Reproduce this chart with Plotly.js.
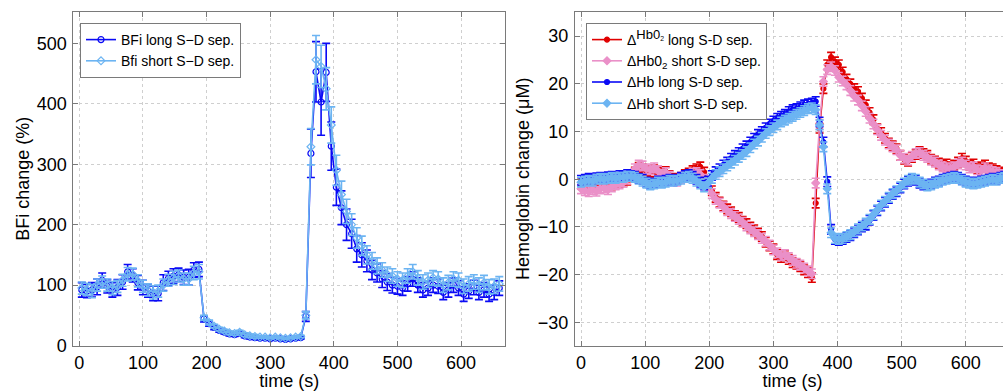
<!DOCTYPE html>
<html>
<head>
<meta charset="utf-8">
<script src="https://cdn.plot.ly/plotly-3.0.1.min.js"></script>
<style>
html,body{margin:0;padding:0;overflow:hidden;background:#fff;}
#chart{width:1010px;height:391px;}
</style>
</head>
<body>
<div id="chart"></div>
<script>
// ---------- Left panel: BFi ----------
const timeL = [4,12,20,28,36,44,52,60,68,76,84,92,100,108,116,124,132,140,148,156,164,172,180,188,
  196,204,212,220,228,236,244,252,260,268,276,284,292,300,308,316,324,332,340,348,
  356,364,372,380,388,396,404,412,420,428,436,444,452,460,468,476,484,492,500,508,516,524,532,540,
  548,556,564,572,580,588,596,604,612,620,628,636,644,652,660];
const bfiLong = [92,90,92,97,108,98,92,96,105,122,116,104,96,91,86,86,104,111,115,117,113,113,125,126,
  44,36,30,25,22,19,18,20,16,14,13,12,12,11,12,11,10,11,12,13,
  48,318,453,403,452,330,262,228,200,185,160,150,140,125,120,110,105,100,98,95,102,110,100,92,
  95,100,98,88,92,100,95,85,90,96,88,92,85,88,95];
const bfiShort = [95,93,90,100,105,100,95,98,108,118,118,107,98,92,88,90,100,108,112,115,110,110,120,122,
  46,38,32,27,24,21,20,22,18,16,15,14,14,13,14,13,12,13,14,15,
  50,329,473,462,425,365,290,250,222,200,178,165,150,140,132,125,118,115,110,108,115,122,112,105,
  108,112,110,100,104,110,108,98,102,105,100,104,97,98,102];
const bfiLongErr = [12,11,12,13,12,11,12,13,12,12,11,12,12,11,12,12,13,12,12,11,12,13,12,12,
  5,4,4,3,3,3,3,3,3,3,3,2,2,2,2,2,2,2,2,2,
  8,40,50,55,48,40,30,28,26,24,22,20,18,16,15,14,14,13,13,12,12,12,12,12,
  12,12,12,12,12,12,12,12,12,12,12,12,12,12,12];
const bfiShortErr = [10,10,11,10,10,10,11,10,10,11,10,10,10,10,11,10,10,10,11,10,10,10,11,12,
  4,4,3,3,3,3,3,3,3,3,3,2,2,2,2,2,2,2,2,2,
  6,30,40,35,35,30,25,22,20,18,17,16,15,14,13,12,12,12,12,12,12,12,12,12,
  12,12,12,12,12,12,12,12,12,12,12,12,12,12,12];

// ---------- Right panel: Hemoglobin ----------
const timeR = [0,6,12,18,24,30,36,42,48,54,60,66,72,78,84,90,96,102,108,114,120,126,132,138,144,150,
  156,162,168,174,180,186,192,198,204,210,216,222,228,234,240,246,252,258,264,270,276,282,288,294,300,
  306,312,318,324,330,336,342,348,354,360,366,372,378,384,390,396,402,408,414,420,426,432,438,444,450,
  456,462,468,474,480,486,492,498,504,510,516,522,528,534,540,546,552,558,564,570,576,582,588,594,600,
  606,612,618,624,630,636,642,648,654,660];
const hbo2Long = [-1.0,-1.2,-1.5,-1.3,-1.5,-1.2,-1.0,-1.4,-1.2,-0.8,-0.6,-0.5,-0.2,0.5,1.5,2.5,2.2,1.8,1.5,2.0,1.5,1.2,1.6,0.8,0.2,0.0,
  0.4,1.0,1.3,1.8,2.2,2.6,1.5,-0.5,-2.4,-3.8,-4.8,-5.6,-6.2,-6.8,-7.6,-8.0,-8.8,-9.3,-10.0,-10.6,-11.3,-12.0,-13.2,-14.0,-14.6,
  -15.8,-16.4,-16.0,-16.8,-17.5,-17.8,-18.3,-19.0,-19.6,-20.6,-5.0,10.7,19.0,24.0,25.6,24.6,24.0,22.5,21.0,20.0,19.0,18.4,17.0,15.6,14.0,
  12.5,10.6,9.8,8.6,7.6,7.0,6.4,5.0,4.2,3.8,4.6,5.2,5.8,5.4,5.0,4.2,3.8,3.4,3.0,3.2,2.6,3.0,3.6,4.4,3.8,
  3.0,3.2,2.2,2.6,3.0,2.4,2.2,1.8,1.5,1.2];
const hbo2Short = [-2.0,-2.4,-2.6,-2.2,-2.5,-2.0,-1.8,-2.2,-1.6,-1.2,-1.0,-0.6,0.0,1.0,2.2,3.0,2.8,2.2,2.0,2.4,1.8,1.0,1.4,0.6,-0.2,-0.4,
  0.2,0.6,0.8,1.2,1.4,1.0,0.0,-1.4,-3.0,-4.2,-5.0,-5.8,-6.6,-7.2,-7.8,-8.4,-9.0,-9.8,-10.4,-11.0,-11.6,-12.4,-13.0,-13.8,-14.8,
  -15.4,-16.0,-15.8,-16.4,-17.0,-17.6,-18.0,-18.6,-19.2,-19.8,-0.8,11.5,20.5,23.0,23.6,22.8,21.4,20.6,19.8,18.6,17.4,16.6,15.4,14.2,12.8,
  11.6,10.4,9.2,8.2,7.4,6.8,6.2,5.0,4.4,4.0,4.8,5.4,5.6,5.0,4.6,4.0,3.6,3.0,2.6,2.4,2.2,2.6,3.2,3.6,3.0,
  2.4,2.6,2.0,1.8,2.4,2.0,1.6,1.4,1.0,0.8];
const hbLong = [-0.2,0.0,0.2,0.0,0.3,0.4,0.2,0.5,0.6,0.4,0.8,0.6,1.0,0.8,0.6,0.2,0.0,-0.6,-1.0,-0.8,-0.4,-0.6,-0.2,0.0,-0.3,0.0,
  0.4,0.8,1.0,0.6,0.0,-0.6,-1.2,-0.4,0.8,1.6,2.2,3.0,3.6,4.4,5.0,5.6,6.4,7.0,7.8,8.6,9.4,10.0,10.8,11.6,12.2,
  12.8,13.2,13.6,14.2,14.6,14.8,15.2,15.6,15.8,16.0,16.3,12.0,7.8,-0.5,-10.5,-12.6,-12.8,-12.6,-12.2,-11.8,-11.2,-10.6,-10.0,-9.6,-8.6,
  -7.6,-6.6,-5.6,-4.8,-4.0,-3.2,-2.6,-1.8,-1.0,-0.4,0.0,-0.2,-0.8,-1.2,-1.2,-1.0,-0.6,-0.4,0.0,0.2,0.4,0.6,0.4,0.0,-0.4,
  -0.6,-0.8,-0.6,-0.4,-0.2,0.0,0.2,0.0,0.4,0.6];
const hbShort = [-0.6,-0.4,-0.2,-0.4,0.0,0.2,0.0,0.2,0.4,0.2,0.4,0.4,0.6,0.6,0.4,0.0,-0.4,-0.8,-1.2,-1.0,-0.6,-0.8,-0.6,-0.2,-0.4,-0.2,
  0.0,0.4,0.6,0.2,-0.4,-1.0,-1.6,-0.8,0.2,1.0,1.6,2.2,2.8,3.4,4.0,4.6,5.2,5.8,6.6,7.4,8.0,8.8,9.6,10.2,10.8,
  11.4,12.0,12.4,12.8,13.2,13.6,14.0,14.4,14.8,15.0,14.6,11.4,6.8,-2.0,-11.2,-12.4,-12.6,-12.4,-12.0,-11.6,-11.0,-10.4,-9.8,-9.2,-8.4,
  -7.4,-6.4,-5.4,-4.6,-3.8,-3.0,-2.4,-1.6,-0.8,-0.2,0.2,0.0,-0.6,-1.0,-1.4,-1.2,-0.8,-0.6,-0.2,0.0,0.2,0.4,0.2,-0.2,-0.6,
  -0.8,-1.0,-0.8,-0.6,-0.4,-0.2,0.0,-0.2,0.2,0.4];
const hbErr = 1.0;

const blue = '#0a0af5', lightBlue = '#6cb4f2', red = '#e00000', pink = '#ea90c8';
const font = 'Liberation Sans, Arial, Helvetica, sans-serif';

function tr(x, y, err, name, color, symbol, xa, ya, leg, size) {
  const e = Array.isArray(err) ? {type:'data', array: err} : {type:'constant', value: err};
  return {
    x: x, y: y, name: name, type: 'scatter', mode: 'lines+markers',
    xaxis: xa, yaxis: ya, legend: leg,
    line: {color: color, width: 1.6},
    marker: {symbol: symbol, size: size, color: color, line: {color: color, width: 1.2}},
    error_y: Object.assign(e, {visible: true, color: color, thickness: 1.6, width: 4})
  };
}

const data = [
  tr(timeL, bfiLong, bfiLongErr, 'BFi long S\u2212D sep.', blue, 'circle-open', 'x', 'y', 'legend', 6),
  tr(timeL, bfiShort, bfiShortErr, 'Bfi short S\u2212D sep.', lightBlue, 'diamond-open', 'x', 'y', 'legend', 6),
  tr(timeR, hbo2Long, hbErr, '\u0394<sup><span style="font-size:13px">Hb0</span><sub>2</sub></sup> long S-D sep.', red, 'circle', 'x2', 'y2', 'legend2', 5),
  tr(timeR, hbo2Short, hbErr, '\u0394Hb0<sub>2</sub> short S-D sep.', pink, 'diamond', 'x2', 'y2', 'legend2', 6),
  tr(timeR, hbLong, hbErr, '\u0394Hb long S-D sep.', blue, 'circle', 'x2', 'y2', 'legend2', 5),
  tr(timeR, hbShort, hbErr, '\u0394Hb short S-D sep.', lightBlue, 'diamond', 'x2', 'y2', 'legend2', 6)
];

const W = 1010, H = 391;
const ax = {
  showline: true, linecolor: '#7a7a7a', linewidth: 1, mirror: 'ticks',
  ticks: 'inside', ticklen: 5, tickcolor: '#7a7a7a', tickwidth: 1,
  showgrid: true, gridcolor: '#cfcfcf', griddash: 'dot', gridwidth: 1,
  zeroline: false, tickfont: {family: font, size: 18, color: '#000'}
};
const yDom = [1 - 345.5 / H, 1 - 12 / H];
const layout = {
  width: W, height: H,
  margin: {l: 0, r: 0, t: 0, b: 0},
  paper_bgcolor: '#fff', plot_bgcolor: '#fff',
  font: {family: font, size: 18, color: '#000'},
  showlegend: true,
  xaxis: Object.assign({}, ax, {domain: [73.3 / W, 505 / W], range: [-9.4, 669], tickvals: [0,100,200,300,400,500,600],
    ticklabelstandoff: 1, title: {text: 'time (s)', font: {family: font, size: 18}, standoff: 0}}),
  yaxis: Object.assign({}, ax, {domain: yDom, range: [0, 552], tickvals: [0,100,200,300,400,500],
    ticklabelstandoff: 2, title: {text: 'BFi change (%)', font: {family: font, size: 18}, standoff: 2}}),
  xaxis2: Object.assign({}, ax, {domain: [575 / W, 1], range: [-9.4, 669], anchor: 'y2', tickvals: [0,100,200,300,400,500,600],
    ticklabelstandoff: 1, title: {text: 'time (s)', font: {family: font, size: 18}, standoff: 0}}),
  yaxis2: Object.assign({}, ax, {domain: yDom, range: [-34.85, 35.07], anchor: 'x2', tickvals: [-30,-20,-10,0,10,20,30],
    ticklabelstandoff: 2, title: {text: 'Hemoglobin change (\u03bcM)', font: {family: font, size: 18}, standoff: 3}}),
  legend: {x: 80 / W, y: 1 - 23 / H, xanchor: 'left', yanchor: 'top', bgcolor: '#fff',
    bordercolor: '#7a7a7a', borderwidth: 1, itemwidth: 30, tracegroupgap: 0,
    font: {family: font, size: 14, color: '#000'}},
  legend2: {x: 586 / W, y: 1 - 23 / H, xanchor: 'left', yanchor: 'top', bgcolor: '#fff',
    bordercolor: '#7a7a7a', borderwidth: 1, itemwidth: 30, tracegroupgap: 0,
    font: {family: font, size: 14, color: '#000'}}
};

Plotly.newPlot('chart', data, layout, {displayModeBar: false, staticPlot: true});
</script>
</body>
</html>
